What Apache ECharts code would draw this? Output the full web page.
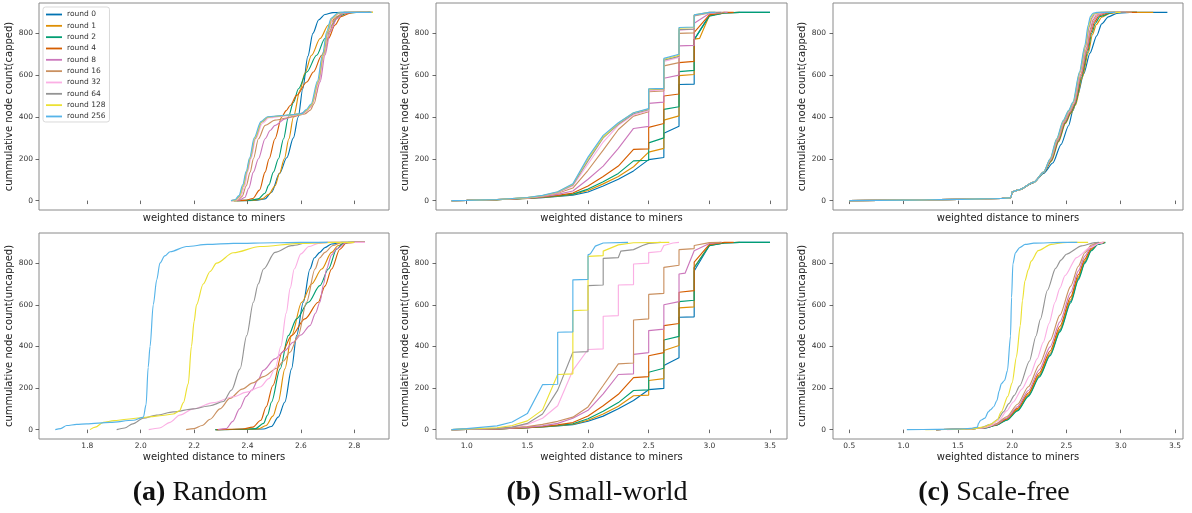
<!DOCTYPE html>
<html><head><meta charset="utf-8">
<script src="https://cdn.jsdelivr.net/npm/echarts@6/dist/echarts.min.js"></script>
<style>html,body{margin:0;padding:0;background:#fff;}#chart{width:1192px;height:513px;}</style>
</head><body><div id="chart"></div><script>
const ROUNDS = ['round 0','round 1','round 2','round 4','round 8','round 16','round 32','round 64','round 128','round 256'];
const COLORS = ['#0173b2','#de8f05','#029e73','#d55e00','#cc78bc','#ca9161','#fbafe4','#949494','#ece133','#56b4e9'];
const Y_TICKS = [0,200,400,600,800];
const X_TICKS_RANDOM = [1.8,2.0,2.2,2.4,2.6,2.8];
const X_TICKS_SMALLWORLD = [1.0,1.5,2.0,2.5,3.0,3.5];
const X_TICKS_SCALEFREE = [0.5,1.0,1.5,2.0,2.5,3.0,3.5];

// (a) Random, capped
const RAND_CAP = [
 [[2.36,0],[2.43,1],[2.465,8],[2.49,40],[2.52,130],[2.547,205],[2.572,300],[2.59,400],[2.607,535],[2.626,690],[2.645,800],[2.667,865],[2.69,890],[2.72,899],[2.75,900],[2.86,900]],
 [[2.35,0],[2.42,1],[2.455,8],[2.48,30],[2.503,70],[2.52,130],[2.538,200],[2.555,296],[2.572,400],[2.597,530],[2.615,610],[2.64,695],[2.672,775],[2.703,840],[2.734,880],[2.765,898],[2.8,900],[2.86,900]],
 [[2.35,0],[2.41,1],[2.44,8],[2.465,35],[2.48,75],[2.497,136],[2.516,200],[2.535,296],[2.553,400],[2.572,470],[2.591,535],[2.622,615],[2.659,695],[2.69,775],[2.715,840],[2.74,880],[2.775,898],[2.81,900],[2.86,900]],
 [[2.345,0],[2.39,1],[2.42,10],[2.445,50],[2.466,136],[2.481,200],[2.503,296],[2.528,400],[2.545,430],[2.56,455],[2.584,503],[2.622,567],[2.647,615],[2.678,695],[2.703,775],[2.728,840],[2.75,880],[2.79,899],[2.82,900],[2.87,900]],
 [[2.34,0],[2.37,2],[2.39,15],[2.405,60],[2.422,136],[2.441,200],[2.466,296],[2.485,335],[2.503,360],[2.541,391],[2.578,407],[2.615,423],[2.635,445],[2.652,490],[2.672,567],[2.69,695],[2.71,807],[2.734,870],[2.76,895],[2.79,900],[2.87,900]],
 [[2.34,0],[2.365,3],[2.38,20],[2.395,70],[2.41,136],[2.422,200],[2.441,296],[2.466,360],[2.503,385],[2.566,400],[2.615,415],[2.635,432],[2.65,465],[2.668,567],[2.687,695],[2.706,807],[2.728,870],[2.755,896],[2.78,900],[2.85,900]],
 [[2.34,0],[2.36,3],[2.375,20],[2.39,70],[2.4,136],[2.413,200],[2.431,296],[2.456,370],[2.48,396],[2.541,405],[2.603,413],[2.625,430],[2.643,460],[2.668,567],[2.686,695],[2.702,807],[2.72,870],[2.745,896],[2.77,900],[2.85,900]],
 [[2.34,0],[2.355,3],[2.37,20],[2.385,70],[2.397,136],[2.41,200],[2.428,296],[2.453,375],[2.478,400],[2.541,407],[2.603,415],[2.622,432],[2.64,458],[2.665,567],[2.684,695],[2.7,807],[2.716,870],[2.74,896],[2.765,900],[2.86,900]],
 [[2.34,0],[2.355,3],[2.37,22],[2.384,72],[2.396,138],[2.409,202],[2.427,298],[2.452,376],[2.477,400],[2.541,407],[2.603,415],[2.622,433],[2.64,460],[2.664,570],[2.683,698],[2.699,808],[2.715,871],[2.74,897],[2.765,900],[2.87,900]],
 [[2.338,0],[2.353,4],[2.368,24],[2.382,75],[2.395,140],[2.408,205],[2.425,300],[2.45,378],[2.475,401],[2.541,408],[2.603,416],[2.62,435],[2.638,462],[2.662,572],[2.681,700],[2.697,810],[2.713,872],[2.738,897],[2.762,900],[2.865,900]]
];

// (a) Random, uncapped
const RAND_UNCAP = [
 [[2.28,0],[2.4,1],[2.46,3],[2.49,15],[2.515,60],[2.54,133],[2.565,292],[2.584,452],[2.609,612],[2.634,772],[2.65,825],[2.671,852],[2.69,875],[2.715,892],[2.753,900],[2.84,900]],
 [[2.28,0],[2.39,1],[2.44,4],[2.47,20],[2.495,65],[2.515,133],[2.54,292],[2.565,452],[2.603,612],[2.64,700],[2.678,772],[2.715,852],[2.74,885],[2.765,898],[2.8,900],[2.84,900]],
 [[2.28,0],[2.38,1],[2.43,5],[2.46,30],[2.475,70],[2.49,133],[2.522,292],[2.553,452],[2.584,532],[2.628,612],[2.671,692],[2.703,772],[2.734,867],[2.755,893],[2.78,900],[2.84,900]],
 [[2.285,0],[2.38,3],[2.42,12],[2.45,45],[2.47,110],[2.495,212],[2.53,372],[2.565,452],[2.615,532],[2.665,612],[2.69,690],[2.715,772],[2.746,867],[2.771,898],[2.8,900],[2.84,900]],
 [[2.29,0],[2.32,5],[2.345,40],[2.37,100],[2.395,160],[2.416,190],[2.44,240],[2.459,285],[2.503,340],[2.54,380],[2.571,420],[2.6,455],[2.634,500],[2.655,560],[2.671,612],[2.685,700],[2.696,772],[2.715,840],[2.734,870],[2.771,899],[2.8,900],[2.84,900]],
 [[2.17,0],[2.2,5],[2.23,20],[2.26,50],[2.297,100],[2.334,150],[2.38,195],[2.42,225],[2.46,255],[2.51,295],[2.535,330],[2.559,372],[2.59,452],[2.621,612],[2.653,772],[2.67,825],[2.69,852],[2.72,885],[2.753,899],[2.79,900],[2.84,900]],
 [[2.03,0],[2.07,8],[2.11,35],[2.146,70],[2.197,100],[2.272,130],[2.347,158],[2.397,180],[2.447,205],[2.48,245],[2.505,300],[2.525,400],[2.545,560],[2.56,680],[2.575,772],[2.6,845],[2.63,880],[2.665,895],[2.7,900],[2.84,900]],
 [[1.91,0],[1.94,8],[1.97,28],[2.01,55],[2.06,70],[2.122,85],[2.197,100],[2.26,115],[2.31,135],[2.34,190],[2.372,292],[2.397,452],[2.422,612],[2.44,700],[2.46,772],[2.503,852],[2.565,884],[2.627,898],[2.7,900],[2.8,900]],
 [[1.81,0],[1.83,12],[1.86,35],[1.9,43],[1.947,50],[2.0,57],[2.035,62],[2.08,68],[2.122,75],[2.145,90],[2.16,130],[2.178,220],[2.19,400],[2.2,520],[2.209,600],[2.234,700],[2.26,760],[2.284,800],[2.347,850],[2.447,880],[2.596,895],[2.72,900],[2.8,900]],
 [[1.68,0],[1.7,5],[1.723,20],[1.76,25],[1.797,28],[1.885,35],[1.972,45],[2.01,60],[2.02,120],[2.028,300],[2.035,400],[2.047,600],[2.06,720],[2.072,800],[2.09,835],[2.11,855],[2.172,880],[2.25,890],[2.347,895],[2.5,898],[2.6,900],[2.7,900]]
];

// (b) Small-world, capped
const SW_CAP = [
 [[0.875,0],[1.0,1],[1.25,4],[1.5,10],[1.625,14],[1.75,20],[1.875,26],[2.0,41],[2.125,70],[2.25,102],[2.375,142],[2.5,196],[2.5,200],[2.625,206],[2.625,322],[2.75,356],[2.75,555],[2.875,557],[2.875,770],[3.0,886],[3.125,897],[3.25,900],[3.5,900]],
 [[0.875,0],[1.0,1],[1.25,4],[1.5,10],[1.625,15],[1.75,21],[1.875,29],[2.0,48],[2.125,80],[2.25,115],[2.375,162],[2.5,232],[2.5,240],[2.625,250],[2.625,385],[2.75,405],[2.75,598],[2.875,603],[2.875,772],[2.92,776],[3.0,885],[3.125,898],[3.25,900]],
 [[0.875,0],[1.0,1],[1.25,4],[1.5,11],[1.625,16],[1.75,22],[1.875,31],[2.0,55],[2.125,90],[2.25,130],[2.375,190],[2.5,193],[2.5,276],[2.625,300],[2.625,436],[2.75,449],[2.75,617],[2.875,623],[2.875,770],[3.0,882],[3.125,897],[3.25,900],[3.5,900]],
 [[0.875,0],[1.0,1],[1.25,4],[1.5,11],[1.625,17],[1.75,25],[1.875,36],[2.0,70],[2.125,115],[2.25,165],[2.375,245],[2.5,247],[2.5,350],[2.625,369],[2.625,500],[2.75,510],[2.75,660],[2.875,666],[2.875,805],[3.0,888],[3.125,900],[3.2,900]],
 [[0.875,0],[1.0,1],[1.25,5],[1.5,12],[1.625,19],[1.75,30],[1.875,46],[2.0,102],[2.125,165],[2.25,250],[2.375,345],[2.5,355],[2.5,465],[2.625,471],[2.625,585],[2.75,600],[2.75,740],[2.875,742],[2.875,848],[3.0,895],[3.125,900],[3.15,900]],
 [[0.875,0],[1.0,1],[1.25,5],[1.5,13],[1.625,21],[1.75,35],[1.875,60],[2.0,145],[2.125,241],[2.25,340],[2.375,404],[2.5,425],[2.5,521],[2.625,525],[2.625,644],[2.75,660],[2.75,800],[2.875,802],[2.875,883],[3.0,898],[3.125,900]],
 [[0.875,0],[1.0,1],[1.25,5],[1.5,13],[1.625,22],[1.75,38],[1.875,70],[2.0,175],[2.125,280],[2.25,360],[2.375,410],[2.5,430],[2.5,525],[2.625,530],[2.625,665],[2.75,685],[2.75,815],[2.875,820],[2.875,885],[3.0,899],[3.1,900]],
 [[0.875,0],[1.0,1],[1.25,5],[1.5,14],[1.625,23],[1.75,40],[1.875,75],[2.0,190],[2.125,300],[2.25,365],[2.375,415],[2.5,435],[2.5,530],[2.625,533],[2.625,672],[2.75,690],[2.75,818],[2.875,820],[2.875,886],[3.0,900],[3.1,900]],
 [[0.875,0],[1.0,1],[1.25,5],[1.5,14],[1.625,24],[1.75,41],[1.875,78],[2.0,200],[2.125,305],[2.25,370],[2.375,420],[2.5,438],[2.5,533],[2.625,535],[2.625,676],[2.75,695],[2.75,825],[2.875,828],[2.875,888],[3.0,900],[3.05,900]],
 [[0.875,0],[1.0,1],[1.25,5],[1.5,15],[1.625,25],[1.75,42],[1.875,80],[2.0,208],[2.125,312],[2.25,372],[2.375,420],[2.5,440],[2.5,535],[2.625,537],[2.625,680],[2.75,700],[2.75,828],[2.875,830],[2.875,888],[3.0,900],[3.05,900]]
];

// (b) Small-world, uncapped
const SW_UNCAP = [
 [[0.875,0],[1.0,1],[1.25,3],[1.5,9],[1.625,13],[1.75,18],[1.875,24],[2.0,40],[2.125,65],[2.25,100],[2.375,140],[2.5,192],[2.625,198],[2.625,308],[2.75,345],[2.75,540],[2.875,542],[2.875,762],[3.0,885],[3.125,897],[3.25,900],[3.5,900]],
 [[0.875,0],[1.0,1],[1.25,3],[1.5,9],[1.625,13],[1.75,19],[1.875,26],[2.0,45],[2.125,75],[2.25,112],[2.375,163],[2.5,166],[2.5,236],[2.625,245],[2.625,380],[2.75,404],[2.75,585],[2.875,590],[2.875,780],[3.0,886],[3.125,898],[3.25,900]],
 [[0.875,0],[1.0,1],[1.25,3],[1.5,10],[1.625,14],[1.75,20],[1.875,28],[2.0,52],[2.125,88],[2.25,130],[2.375,188],[2.5,191],[2.5,276],[2.625,295],[2.625,431],[2.75,448],[2.75,615],[2.875,622],[2.875,778],[3.0,884],[3.125,897],[3.25,900],[3.5,900]],
 [[0.875,0],[1.0,1],[1.25,4],[1.5,10],[1.625,15],[1.75,23],[1.875,34],[2.0,66],[2.125,115],[2.25,170],[2.375,250],[2.5,255],[2.5,355],[2.625,370],[2.625,500],[2.75,510],[2.75,660],[2.875,668],[2.875,805],[3.0,890],[3.125,900],[3.2,900]],
 [[0.875,0],[1.0,1],[1.25,4],[1.5,12],[1.625,18],[1.75,30],[1.875,55],[2.0,93],[2.125,172],[2.25,265],[2.375,268],[2.375,362],[2.5,370],[2.5,476],[2.625,483],[2.625,600],[2.75,615],[2.75,748],[2.8,752],[2.875,860],[3.0,895],[3.1,900]],
 [[0.875,0],[1.0,1],[1.25,5],[1.5,15],[1.625,25],[1.75,40],[1.875,60],[2.0,109],[2.125,212],[2.25,316],[2.375,320],[2.375,527],[2.5,532],[2.5,650],[2.625,655],[2.625,780],[2.75,790],[2.75,865],[2.875,870],[2.875,885],[3.0,899],[3.1,900]],
 [[0.875,0],[1.0,2],[1.25,7],[1.375,13],[1.5,25],[1.625,55],[1.75,115],[1.875,285],[2.0,385],[2.125,388],[2.125,545],[2.25,548],[2.25,695],[2.375,697],[2.375,796],[2.5,800],[2.5,851],[2.6,856],[2.625,885],[2.7,897],[2.75,900]],
 [[0.875,0],[1.0,2],[1.25,6],[1.375,12],[1.5,30],[1.625,75],[1.75,190],[1.875,372],[2.0,375],[2.0,692],[2.125,695],[2.125,823],[2.25,827],[2.27,858],[2.375,865],[2.45,885],[2.5,895],[2.6,900]],
 [[0.875,0],[1.0,3],[1.25,9],[1.375,20],[1.5,42],[1.625,95],[1.75,265],[1.875,268],[1.875,572],[2.0,575],[2.0,833],[2.125,836],[2.125,858],[2.25,888],[2.375,898],[2.67,900]],
 [[0.875,0],[1.0,5],[1.25,18],[1.375,37],[1.5,77],[1.625,216],[1.75,218],[1.75,468],[1.875,470],[1.875,720],[2.0,722],[2.0,840],[2.02,845],[2.06,882],[2.125,897],[2.33,900]]
];

// (c) Scale-free, capped
const SF_CAP = [
 [[0.5,0],[1.0,2],[1.5,6],[1.9,10],[1.99,14],[2.0,42],[2.06,51],[2.2,86],[2.29,130],[2.375,180],[2.45,268],[2.52,358],[2.56,430],[2.6,498],[2.66,607],[2.717,705],[2.779,788],[2.825,845],[2.886,879],[2.963,895],[3.05,899],[3.117,900],[3.43,900]],
 [[0.5,0],[1.0,2],[1.5,6],[1.9,10],[1.99,14],[2.0,42],[2.06,51],[2.2,87],[2.29,134],[2.363,189],[2.429,282],[2.491,369],[2.541,417],[2.584,457],[2.645,586],[2.701,705],[2.74,793],[2.776,842],[2.825,877],[2.9,895],[2.97,900],[3.3,900]],
 [[0.5,0],[1.0,2],[1.5,6],[1.9,10],[1.99,14],[2.0,42],[2.06,51],[2.2,87],[2.29,134],[2.361,191],[2.426,284],[2.488,371],[2.538,419],[2.58,459],[2.641,591],[2.696,711],[2.733,800],[2.767,848],[2.81,881],[2.93,900],[3.15,900]],
 [[0.5,0],[1.0,2],[1.5,6],[1.9,10],[1.99,14],[2.0,42],[2.06,51],[2.2,87],[2.29,135],[2.359,193],[2.423,286],[2.485,373],[2.535,421],[2.576,461],[2.637,596],[2.691,717],[2.727,806],[2.759,854],[2.8,884],[2.9,900],[3.15,900]],
 [[0.5,0],[1.0,2],[1.5,6],[1.9,10],[1.99,14],[2.0,42],[2.06,51],[2.2,88],[2.29,135],[2.357,195],[2.42,288],[2.482,375],[2.532,423],[2.573,463],[2.634,600],[2.687,722],[2.722,812],[2.752,859],[2.79,887],[2.88,900],[3.1,900]],
 [[0.5,0],[1.0,2],[1.5,6],[1.9,10],[1.99,14],[2.0,42],[2.06,51],[2.2,88],[2.29,136],[2.355,196],[2.418,290],[2.479,377],[2.529,425],[2.57,465],[2.631,604],[2.683,727],[2.717,818],[2.745,864],[2.78,890],[2.86,900],[3.1,900]],
 [[0.5,0],[1.0,2],[1.5,6],[1.9,10],[1.99,14],[2.0,42],[2.06,51],[2.2,88],[2.29,136],[2.353,197],[2.416,292],[2.476,379],[2.526,427],[2.567,467],[2.627,608],[2.679,732],[2.712,824],[2.738,869],[2.77,892],[2.84,900],[3.05,900]],
 [[0.5,0],[1.0,2],[1.5,6],[1.9,10],[1.99,14],[2.0,42],[2.06,51],[2.2,88],[2.29,136],[2.352,198],[2.414,294],[2.474,381],[2.524,429],[2.564,469],[2.624,611],[2.676,736],[2.708,829],[2.732,873],[2.76,894],[2.82,900],[3.05,900]],
 [[0.5,0],[1.0,2],[1.5,6],[1.9,10],[1.99,14],[2.0,42],[2.06,51],[2.2,88],[2.29,136],[2.351,199],[2.412,295],[2.472,382],[2.522,430],[2.562,470],[2.622,613],[2.673,740],[2.704,834],[2.726,877],[2.752,895],[2.8,900],[3.0,900]],
 [[0.5,0],[1.0,2],[1.5,6],[1.9,10],[1.99,14],[2.0,42],[2.06,51],[2.2,88],[2.29,136],[2.35,200],[2.41,296],[2.47,383],[2.52,431],[2.56,471],[2.62,615],[2.67,743],[2.7,839],[2.72,880],[2.745,896],[2.78,900],[2.95,900]]
];

// (c) Scale-free, uncapped
const SF_UNCAP = [
 [[1.3,0],[1.6,3],[1.75,8],[1.85,21],[1.95,47],[2.05,93],[2.15,164],[2.25,257],[2.35,360],[2.44,476],[2.54,617],[2.61,727],[2.67,806],[2.73,864],[2.79,892],[2.85,900]],
 [[1.3,0],[1.6,3],[1.75,9],[1.85,22],[1.95,49],[2.05,96],[2.15,168],[2.25,262],[2.35,366],[2.44,483],[2.54,624],[2.61,733],[2.67,811],[2.73,867],[2.79,893],[2.85,900]],
 [[1.3,0],[1.6,3],[1.75,8],[1.85,20],[1.95,45],[2.05,90],[2.15,160],[2.25,252],[2.35,355],[2.44,470],[2.54,610],[2.61,720],[2.67,800],[2.73,860],[2.79,890],[2.86,900]],
 [[1.3,0],[1.6,3],[1.75,9],[1.85,23],[1.95,52],[2.05,102],[2.15,176],[2.25,272],[2.35,378],[2.44,497],[2.54,638],[2.61,745],[2.67,820],[2.73,872],[2.79,895],[2.85,900]],
 [[1.3,0],[1.6,3],[1.75,10],[1.85,25],[1.95,56],[2.05,110],[2.15,188],[2.25,288],[2.35,398],[2.44,518],[2.54,660],[2.61,763],[2.67,834],[2.73,880],[2.79,897],[2.84,900]],
 [[1.3,0],[1.6,3],[1.75,11],[1.85,28],[1.95,62],[2.05,122],[2.15,206],[2.25,312],[2.35,428],[2.44,550],[2.54,690],[2.61,785],[2.67,850],[2.73,887],[2.79,899],[2.84,900]],
 [[1.4,0],[1.6,3],[1.72,8],[1.8,18],[1.88,45],[1.95,90],[2.011,133],[2.09,195],[2.164,260],[2.23,340],[2.287,420],[2.34,510],[2.395,612],[2.44,680],[2.487,740],[2.594,827],[2.717,875],[2.809,896],[2.84,900]],
 [[1.3,0],[1.55,3],[1.7,8],[1.8,25],[1.87,50],[1.92,85],[1.97,125],[2.02,165],[2.07,210],[2.16,330],[2.22,450],[2.26,530],[2.325,670],[2.4,775],[2.45,815],[2.5,843],[2.64,883],[2.76,899],[2.8,900]],
 [[1.2,0],[1.5,2],[1.65,5],[1.75,14],[1.8,25],[1.86,45],[1.9,85],[1.96,160],[2.0,225],[2.04,350],[2.075,500],[2.095,620],[2.118,715],[2.15,770],[2.175,810],[2.24,860],[2.36,890],[2.47,899],[2.55,900],[2.7,900]],
 [[1.03,0],[1.3,1],[1.5,3],[1.62,6],[1.68,12],[1.69,30],[1.71,45],[1.75,55],[1.78,85],[1.8,95],[1.83,110],[1.86,140],[1.88,185],[1.9,220],[1.93,236],[1.957,284],[1.985,450],[1.995,636],[2.007,796],[2.03,850],[2.07,875],[2.12,890],[2.2,896],[2.47,900],[2.6,900]]
];

const FONT = 'DejaVu Sans';
const PANELS = [
  {data: RAND_CAP,   grid:{left:39, top:3,   width:350, height:207}, xMin:1.619, xMax:2.93,  ticks:X_TICKS_RANDOM,     top:true,  yName:'cummulative node count(capped)',   nameGap:21.5, yMargin:6, smooth:0.3},
  {data: RAND_UNCAP, grid:{left:39, top:233, width:350, height:206}, xMin:1.619, xMax:2.93,  ticks:X_TICKS_RANDOM,     top:false, yName:'cummulative node count(uncapped)', nameGap:21.5, yMargin:6, smooth:0.3},
  {data: SW_CAP,     grid:{left:436,top:3,   width:351, height:207}, xMin:0.747, xMax:3.64,  ticks:X_TICKS_SMALLWORLD, top:true,  yName:'cummulative node count(capped)',   nameGap:22, yMargin:7, smooth:false},
  {data: SW_UNCAP,   grid:{left:436,top:233, width:351, height:206}, xMin:0.747, xMax:3.64,  ticks:X_TICKS_SMALLWORLD, top:false, yName:'cummulative node count(uncapped)', nameGap:22, yMargin:7, smooth:false},
  {data: SF_CAP,     grid:{left:833,top:3,   width:350, height:207}, xMin:0.35,  xMax:3.574, ticks:X_TICKS_SCALEFREE,  top:true,  yName:'cummulative node count(capped)',   nameGap:19.5, yMargin:7, smooth:0.25},
  {data: SF_UNCAP,   grid:{left:833,top:233, width:350, height:206}, xMin:0.35,  xMax:3.574, ticks:X_TICKS_SCALEFREE,  top:false, yName:'cummulative node count(uncapped)', nameGap:19.5, yMargin:7, smooth:0.25}
];

const grids = [], xAxes = [], yAxes = [], series = [];
PANELS.forEach((p, pi) => {
  grids.push(Object.assign({show:true, borderColor:'#8a8a8a', borderWidth:1, backgroundColor:'#fff', outerBoundsMode:'none', containLabel:false}, p.grid));
  xAxes.push({
    type:'value', gridIndex:pi, min:p.xMin, max:p.xMax,
    axisLine:{show:false}, splitLine:{show:false},
    axisTick:{show:true, length:3.5, customValues:p.ticks, lineStyle:{color:'#444', width:0.8}},
    axisLabel:{show:!p.top, customValues:p.ticks, fontSize:7.5, color:'#333', margin:3, fontFamily:FONT,
      formatter: v => Number(v).toFixed(1)},
    name:'weighted distance to miners', nameLocation:'middle', nameGap: p.top ? 3 : 13,
    nameTextStyle:{fontSize:10, color:'#222', fontFamily:FONT}
  });
  yAxes.push({
    type:'value', gridIndex:pi, min:-45, max:945,
    axisLine:{show:false}, splitLine:{show:false},
    axisTick:{show:true, length:3.5, customValues:Y_TICKS, lineStyle:{color:'#444', width:0.8}},
    axisLabel:{customValues:Y_TICKS, fontSize:7.5, color:'#333', margin:p.yMargin, fontFamily:FONT},
    name:p.yName, nameLocation:'middle', nameGap:p.nameGap,
    nameTextStyle:{fontSize:10, color:'#222', fontFamily:FONT}
  });
  p.data.forEach((pts, i) => {
    series.push({
      type:'line', name:ROUNDS[i], xAxisIndex:pi, yAxisIndex:pi, data:pts,
      symbol:'none', showSymbol:false, smooth:p.smooth, smoothMonotone:'x',
      lineStyle:{width:1.15, color:COLORS[i]}, itemStyle:{color:COLORS[i]},
      emphasis:{disabled:true}, z:2+i, silent:true
    });
  });
});

function caption(x, tag, word){
  return {type:'text', x:x, y:493, z:10, style:{
    text:'{b|' + tag + '} {n|' + word + '}', align:'center', verticalAlign:'middle',
    font:'28px "Liberation Serif"', fill:'#111',
    rich:{b:{fontWeight:'bold', fontSize:28, fontFamily:'Liberation Serif', fill:'#111'},
          n:{fontSize:28, fontFamily:'Liberation Serif', fill:'#111'}}
  }};
}

const chart = echarts.init(document.getElementById('chart'), null, {renderer:'canvas'});
chart.setOption({
  animation:false,
  backgroundColor:'#fff',
  grid:grids, xAxis:xAxes, yAxis:yAxes, series:series,
  legend:{
    data:ROUNDS.map((r, i) => ({name:r, icon:'rect', itemStyle:{color:COLORS[i], borderWidth:0}})),
    orient:'vertical', left:43, top:7, z:20,
    itemWidth:16, itemHeight:1.8, itemGap:3.33,
    padding:[3.5,4,1.5,3], backgroundColor:'#fff', borderColor:'#cfcfcf', borderWidth:0.8, borderRadius:2.5,
    selectedMode:false,
    textStyle:{fontSize:7.5, lineHeight:8, color:'#333', fontFamily:FONT}
  },
  graphic:[
    caption(200, '(a)', 'Random'),
    caption(597, '(b)', 'Small-world'),
    caption(994, '(c)', 'Scale-free')
  ]
});
</script></body></html>
